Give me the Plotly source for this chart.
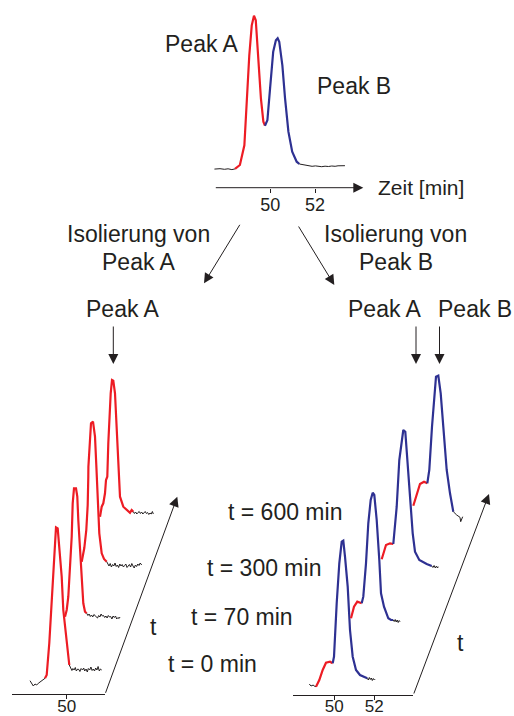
import plotly.graph_objects as go

W, H = 514, 716

# ---------------------------------------------------------------- data
# Top chromatogram (retention time in min, detector signal in a.u.)
top_time = [47.49, 47.75, 47.95, 48.11, 48.28, 48.42, 48.64, 48.84, 48.94, 49.06, 49.17,
            49.27, 49.35, 49.46, 49.58, 49.69, 49.76, 49.87, 49.99, 50.13, 50.25, 50.33,
            50.40, 50.54, 50.66, 50.81, 50.98, 51.18, 51.30, 51.55, 51.72, 51.87, 52.02,
            52.15, 52.30, 52.45, 52.60, 52.75, 52.90, 53.03, 53.18, 53.34]
top_signal = [0.2, 0.6, 0.0, 0.5, -0.3, 0.4, 4.3, 24, 64, 114, 144,
              153.6, 149, 114, 71, 47.6, 43.6, 49, 81, 117.6, 129, 131,
              127.6, 104, 71, 37.6, 17.6, 7.6, 5.3, 4.3, 3.6, 3.0, 3.4,
              3.0, 2.6, 3.1, 2.8, 3.3, 3.0, 3.5, 3.2, 3.6]
top_runs = [("base", 5), ("A", 11), ("B", 12), ("base", 14)]

# Isolated Peak A, re-injected after t = 0, 70, 300, 600 min
a0_time = [48.165, 48.25, 48.33, 48.415, 48.5, 48.58, 48.665, 48.75, 48.83,
           48.915, 49.0, 49.13, 49.25, 49.33, 49.415, 49.465, 49.55, 49.63, 49.75, 49.83, 49.965, 50.08,
           50.13, 50.20, 50.26, 50.31, 50.37, 50.43, 50.48, 50.55, 50.61, 50.66, 50.72, 50.79, 50.85,
           50.90, 50.97, 51.03, 51.08, 51.15, 51.21, 51.27, 51.33, 51.39, 51.45, 51.51, 51.57, 51.63,
           51.69, 51.75]
a0_signal = [1.3, -1.3, -4, -2, -3, -1.3, 0, 1.3, 2,
             3.7, 7, 39, 79, 105.3, 139, 154.7, 153.7, 135.3, 105.3, 72, 45.3, 25.3,
             17, 14, 11.5, 13.5, 12, 14.5, 11, 13, 12.5, 10.5, 13.5, 12, 14,
             11, 13, 10, 13.5, 12, 15, 11.5, 13, 11, 14, 12, 15.5, 11,
             13, 12]
a0_runs = [("base", 9), ("A", 13), ("base", 28)]

a1_time = [48.935, 49.02, 49.10, 49.185, 49.27, 49.32, 49.385, 49.485, 49.55, 49.60, 49.685,
           49.77, 49.85, 49.935,
           50.02, 50.08, 50.14, 50.2, 50.26, 50.32, 50.38, 50.44, 50.5, 50.56, 50.62, 50.68, 50.74,
           50.8, 50.86, 50.92, 50.98, 51.04, 51.1, 51.16, 51.22, 51.28, 51.34, 51.4, 51.46, 51.52,
           51.58, 51.64, 51.685]
a1_signal = [11.8, 18.5, 31.8, 58.5, 91.8, 125.2, 140.2, 140.2, 131.8, 108.5, 75.2,
             48.5, 25.2, 16.8,
             15.2, 13, 14.5, 12, 13.5, 11.5, 14, 12.5, 12, 10.5, 13, 11.5, 14.5,
             12.5, 13, 11, 12.5, 10.5, 13, 11.5, 12, 9.5, 12.5, 11, 12.5, 9.5,
             11, 10, 11.5]
a1_runs = [("A", 14), ("base", 29)]

a2_time = [48.845, 48.975, 49.075, 49.145, 49.175, 49.18, 49.26, 49.31, 49.41, 49.51, 49.575,
           49.645, 49.725, 49.845, 49.96,
           50.095, 50.15, 50.21, 50.27, 50.33, 50.39, 50.45, 50.51, 50.57, 50.63, 50.69, 50.75,
           50.81, 50.87, 50.93, 50.99, 51.05, 51.11, 51.17, 51.23, 51.29, 51.35, 51.41, 51.47,
           51.53, 51.59, 51.65, 51.71, 51.77, 51.845]
a2_signal = [16.3, 30, 48, 73, 101.3, 111.3, 138, 154.7, 156.3, 141.3, 113,
             78, 44.7, 24.7, 19,
             16.3, 14, 12, 14.5, 11, 13.5, 12, 15, 11.5, 13, 10.5, 14,
             12, 13.5, 11, 12.5, 14, 10.5, 12, 13.5, 11, 14.5, 12, 10,
             13, 11.5, 14, 12.5, 15, 13]
a2_runs = [("A", 15), ("base", 30)]

a3_time = [48.81, 48.895, 48.975, 49.06, 49.11, 49.175, 49.225, 49.275, 49.345, 49.41, 49.475,
           49.56, 49.645, 49.725, 49.81, 49.975, 50.145, 50.31, 50.395,
           50.475, 50.53, 50.59, 50.65, 50.71, 50.77, 50.83, 50.89, 50.95, 51.01, 51.07, 51.13,
           51.19, 51.25, 51.31, 51.37, 51.43, 51.475]
a3_signal = [9.3, 19.3, 22.7, 32.7, 46, 49.3, 82.7, 106, 132.7, 146, 145.3,
             132.7, 99.3, 56, 29.3, 19.3, 16, 13.3, 16,
             14.3, 12.5, 14, 12, 13.5, 14.5, 12.5, 14, 12, 13, 14.5, 12.5,
             13.5, 11.5, 13, 12, 14.5, 12]
a3_runs = [("A", 19), ("base", 18)]

# Isolated Peak B, re-injected after t = 0, 70, 300, 600 min
b0_time = [48.75, 48.835, 48.95, 49.0,
           49.085, 49.25, 49.42, 49.585, 49.785,
           49.92, 49.985, 50.12, 50.25, 50.37, 50.45, 50.535, 50.67, 50.785, 50.92, 51.085, 51.285,
           51.535,
           51.65, 51.7, 51.75, 51.8, 51.85, 51.9, 51.95, 52.0, 52.035]
b0_signal = [0, -2, -1, -2.2,
             -2.7, 4, 14, 21.3, 22.3,
             20.7, 27.3, 80.7, 120.7, 142.3, 143.3, 127.3, 97.3, 54, 27.3, 14, 9,
             6.7,
             5.7, 4, 6.5, 4.5, 6, 3.5, 5.5, 4, 4.7]
b0_runs = [("base", 4), ("A", 5), ("B", 13), ("base", 9)]

b1_time = [49.74, 49.89, 50.055,
           50.275, 50.355, 50.49, 50.605, 50.725, 50.825, 50.905, 51.025, 51.155, 51.24, 51.39,
           51.605, 51.74,
           51.855, 51.9, 51.95, 52.0, 52.05, 52.1, 52.15, 52.19]
b1_signal = [7.7, 19.3, 24.3,
             22.7, 29.3, 62.7, 102.7, 126, 133.3, 131, 106, 66, 32.7, 19.3,
             7.7, 6,
             6, 4.5, 6.5, 4, 6, 3.5, 5.5, 4.3]
b1_runs = [("A", 3), ("B", 13), ("base", 8)]

b2_time = [50.26, 50.475, 50.675,
           50.84, 51.01, 51.14, 51.26, 51.34, 51.44, 51.54, 51.675, 51.81, 51.925, 52.14, 52.51,
           52.76, 52.82, 52.88, 52.94, 53.0, 53.05, 53.09]
b2_signal = [12.7, 27, 28.7,
             28, 65.3, 112, 132, 142, 140.3, 112, 72, 38.7, 20.3, 12, 8,
             6, 4.5, 6.5, 4, 6, 4, 5.3]
b2_runs = [("A", 3), ("B", 12), ("base", 7)]

b3_time = [50.895, 51.095, 51.23, 51.43,
           51.595, 51.695, 51.83, 51.93, 52.03, 52.145, 52.265, 52.395, 52.565, 52.73, 52.815,
           52.895, 52.98, 53.065, 53.23, 53.265, 53.365]
b3_signal = [16.3, 28.7, 38, 40.3,
             38.7, 52, 95.3, 122, 145.3, 146.3, 128.7, 95.3, 52, 28.7, 18.7,
             10.3, 8.5, 7, 4.7, 0.3, 5.3]
b3_runs = [("A", 4), ("B", 11), ("base", 6)]

top_ticks = [50, 52]
left_ticks = [50]
right_ticks = [50, 52]
time_labels = ["t = 0 min", "t = 70 min", "t = 300 min", "t = 600 min"]

# ---------------------------------------------------------------- style / layout constants
FONT = "Liberation Sans, Arial, Helvetica, sans-serif"
INK = "#231f20"
COLORS = {"A": "#ed1c24", "B": "#2e3192", "base": INK}
WIDTHS = {"A": 2.2, "B": 2.2, "base": 1.0}


def expand(runs):
    out = []
    for name, n in runs:
        out += [name] * n
    return out


def px(x, y):
    return x / W, 1 - y / H


def segments(t, s, comp):
    segs = []
    start = 0
    for k in range(1, len(t) + 1):
        if k == len(t) or comp[k] != comp[start]:
            end = min(k, len(t) - 1)
            segs.append((comp[start], t[start:end + 1], s[start:end + 1]))
            start = k
    return segs


fig = go.Figure()
layout = {}
axis_n = [0]


def add_panel(t, s, runs, x0, x1, axis_y, base_y, top_y, tick50, pxmin, dx=0, dy=0,
              show_x=False, ticks=None, tickfont=18, showline=True, standoff=0):
    axis_n[0] += 1
    n = axis_n[0]
    sx = "" if n == 1 else str(n)
    xd = [(x0 + dx) / W, (x1 + dx) / W]
    yd = [1 - (axis_y - dy) / H, 1 - (top_y - dy) / H]
    xr = [50 + (x0 - tick50) / pxmin, 50 + (x1 - tick50) / pxmin]
    yr = [-(axis_y - base_y), base_y - top_y]
    layout["xaxis" + sx] = dict(
        domain=xd, range=xr, anchor="y" + sx, visible=show_x, showgrid=False, zeroline=False,
        showline=showline, linecolor=INK, linewidth=1, ticks="outside", ticklen=4,
        tickcolor=INK, tickwidth=1, tickvals=ticks or [], automargin=False,
        ticklabelstandoff=standoff,
        tickfont=dict(family=FONT, size=tickfont, color=INK), fixedrange=True)
    layout["yaxis" + sx] = dict(domain=yd, range=yr, anchor="x" + sx, visible=False,
                                automargin=False, showgrid=False, zeroline=False, fixedrange=True)
    for comp, tt, ss in segments(t, s, expand(runs)):
        fig.add_trace(go.Scatter(x=tt, y=ss, mode="lines", xaxis="x" + sx, yaxis="y" + sx,
                                 line=dict(color=COLORS[comp], width=WIDTHS[comp]),
                                 showlegend=False, hoverinfo="skip"))


# top chromatogram
add_panel(top_time, top_signal, top_runs, 214.3, 363.3, 187.7, 169.3, 8, 270.3, 22.35,
          show_x=True, ticks=top_ticks, tickfont=18, showline=False, standoff=-3)

# left panel (Peak A)
L = dict(x0=11.7, x1=105, axis_y=694.3, base_y=682, top_y=515, tick50=66.7, pxmin=20)
L_dy = [0, 53.5, 104, 156]
L_dx = [0, 19.6, 38.1, 57.1]
for i, (t, s, r) in enumerate([(a0_time, a0_signal, a0_runs), (a1_time, a1_signal, a1_runs),
                               (a2_time, a2_signal, a2_runs), (a3_time, a3_signal, a3_runs)]):
    add_panel(t, s, r, dx=L_dx[i], dy=L_dy[i], show_x=(i == 0), tickfont=17,
              ticks=left_ticks if i == 0 else None, standoff=-8, **L)

# right panel (Peak B)
R = dict(x0=292.7, x1=413.3, axis_y=695, base_y=684, top_y=515, tick50=334.3, pxmin=20)
R_dy = [0, 58, 112, 162]
R_dx = [0, 21.9, 42.2, 61.1]
for i, (t, s, r) in enumerate([(b0_time, b0_signal, b0_runs), (b1_time, b1_signal, b1_runs),
                               (b2_time, b2_signal, b2_runs), (b3_time, b3_signal, b3_runs)]):
    add_panel(t, s, r, dx=R_dx[i], dy=R_dy[i], show_x=(i == 0), tickfont=17,
              ticks=right_ticks if i == 0 else None, standoff=-8, **R)

# ---------------------------------------------------------------- annotations
ann = []


def text(s, x, y, size=23, xanchor="center"):
    xp, yp = px(x, y)
    ann.append(dict(text=s, x=xp, y=yp, xref="paper", yref="paper", showarrow=False,
                    xanchor=xanchor, yanchor="middle",
                    font=dict(family=FONT, size=size, color=INK)))


def arrow(tail, tip):
    xp, yp = px(*tip)
    ann.append(dict(text="", x=xp, y=yp, xref="paper", yref="paper", showarrow=True,
                    ax=tail[0] - tip[0], ay=tail[1] - tip[1], axref="pixel", ayref="pixel",
                    arrowhead=2, arrowsize=2.0, arrowwidth=1, arrowcolor=INK,
                    standoff=0, startstandoff=0))


text("Peak A", 201.5, 44)
text("Peak B", 353.5, 86)
text("Zeit [min]", 376, 187, size=21, xanchor="left")
text("Isolierung von", 138.7, 233.5)
text("Peak A", 138.7, 261.7)
text("Isolierung von", 395.5, 233.5)
text("Peak B", 395.5, 261.7)
text("Peak A", 122.7, 308.5)
text("Peak A", 385, 308.5)
text("Peak B", 475, 308.5)
for lab, xl, yl in zip(time_labels, [166, 189, 205, 226], [664, 616.7, 568, 512]):
    text(lab, xl, yl, xanchor="left")
text("t", 153.3, 626.7)
text("t", 460, 643.3)

arrow((214.3, 187.7), (363.3, 187.7))
arrow((240.7, 223.3), (204, 283.3))
arrow((297.7, 225), (334.3, 285))
arrow((113.3, 325), (113.3, 364))
arrow((416, 325), (416, 364))
arrow((439.5, 325), (439.5, 364))
arrow((105, 694.3), (177.3, 496.7))
arrow((413.3, 695), (489, 494))

fig.update_layout(
    width=W, height=H, autosize=False,
    margin=dict(l=0, r=0, t=0, b=0, pad=0, autoexpand=False),
    paper_bgcolor="white", plot_bgcolor="rgba(0,0,0,0)",
    showlegend=False, annotations=ann, **layout)

fig.write_html("out.html", config={"displayModeBar": False},
               post_script="document.body.style.margin='0';document.body.style.overflow='hidden';")
